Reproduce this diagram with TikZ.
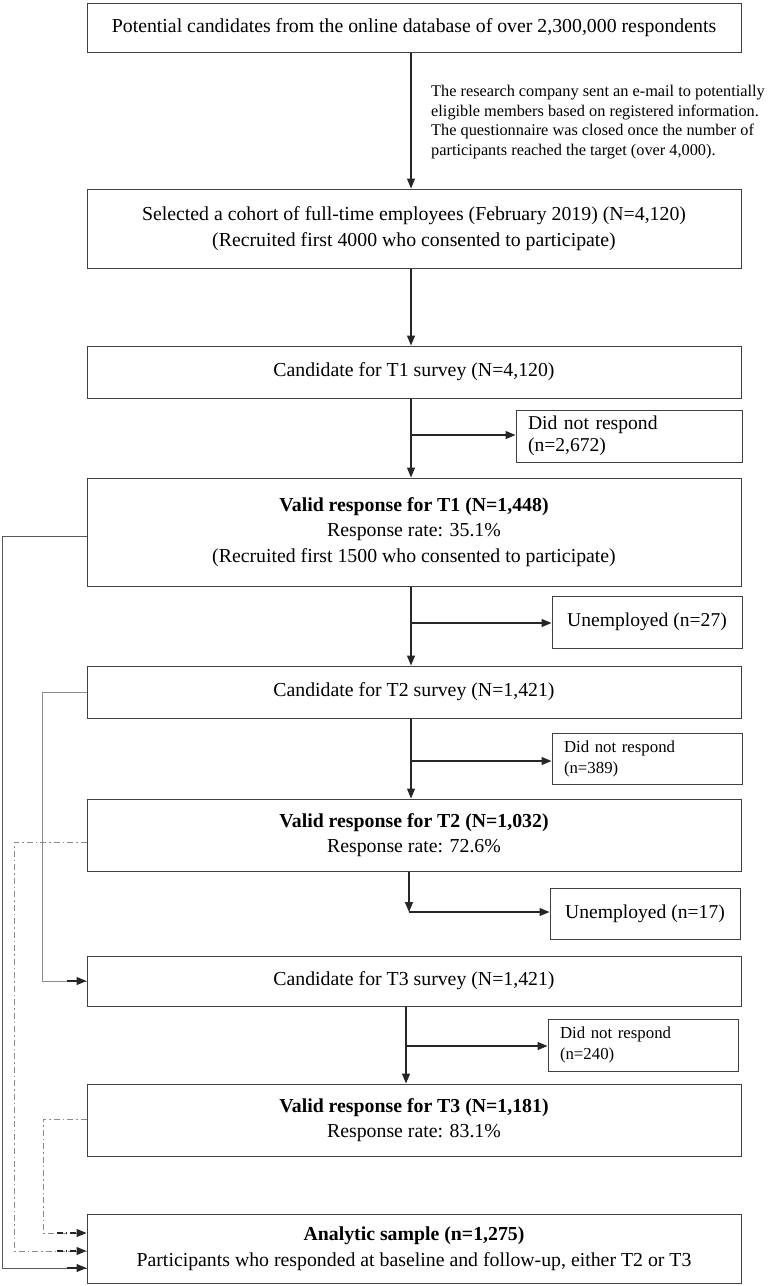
\documentclass[tikz,border=0pt]{standalone}
\usepackage{fontspec}
\setmainfont{Liberation Serif}
\usetikzlibrary{arrows.meta,calc}
\tikzset{
  mainbox/.style={draw=black!75, line width=1pt, minimum width=654pt, inner sep=0pt, align=center, font=\fontsize{19.8}{25.5}\selectfont},
  sidebox/.style={draw=black!75, line width=1pt, minimum width=190pt, minimum height=51pt, inner sep=0pt, font=\fontsize{19.6}{22}\selectfont},
  smalltext/.style={font=\fontsize{16.8}{21}\selectfont},
  arr/.style={draw=black!85, line width=1.2pt, -{Triangle[length=10pt,width=8pt]}},
  leftsolid/.style={draw=black!65, line width=1pt},
  leftgray/.style={draw=black!45, line width=1pt},
  dashdot/.style={draw=black!45, line width=1pt, dash pattern=on 6pt off 3pt on 1.5pt off 3pt},
  dasharr/.style={arr, dash pattern=on 6pt off 3pt on 1.5pt off 3pt}
}
\begin{document}
\begin{tikzpicture}[x=1pt,y=-1pt]
\useasboundingbox (0,0) rectangle (769,1286);
% main boxes
\node[mainbox, minimum height=49pt] (b1) at (414,27.5) {Potential candidates from the online database of over 2,300,000 respondents};
\node[mainbox, minimum height=79pt] (b2) at (414,228.5) {Selected a cohort of full-time employees (February 2019) (N=4,120)\\(Recruited first 4000 who consented to participate)};
\node[mainbox, minimum height=52pt] (b3) at (414,372) {Candidate for T1 survey (N=4,120)};
\node[mainbox, minimum height=108pt] (b4) at (414,532) {\textbf{Valid response for T1 (N=1,448)}\\Response rate: 35.1\%\\(Recruited first 1500 who consented to participate)};
\node[mainbox, minimum height=52pt] (b5) at (414,692) {Candidate for T2 survey (N=1,421)};
\node[mainbox, minimum height=72pt] (b6) at (414,835) {\textbf{Valid response for T2 (N=1,032)}\\Response rate: 72.6\%};
\node[mainbox, minimum height=50pt] (b7) at (414,981) {Candidate for T3 survey (N=1,421)};
\node[mainbox, minimum height=72pt] (b8) at (414,1120) {\textbf{Valid response for T3 (N=1,181)}\\Response rate: 83.1\%};
\node[mainbox, minimum height=69pt] (b9) at (414,1248.5) {\textbf{Analytic sample (n=1,275)}\\Participants who responded at baseline and follow-up, either T2 or T3};
% annotation
\node[anchor=north west, align=left, inner sep=0pt, font=\fontsize{16.3}{19.5}\selectfont] (note) at (431,85) {The research company sent an e-mail to potentially\\eligible members based on registered information.\\The questionnaire was closed once the number of\\participants reached the target (over 4,000).};
% side boxes
\node[sidebox, minimum width=226pt, minimum height=52pt, align=left, text width=202pt] (s1) at (629,436) {Did not respond\\(n=2,672)};
\node[sidebox, minimum height=52pt] (s2) at (647,622) {Unemployed (n=27)};
\node[sidebox, align=left, text width=166pt, smalltext] (s3) at (647,758.5) {Did not respond\\(n=389)};
\node[sidebox] (s4) at (645,913.5) {Unemployed (n=17)};
\node[sidebox, minimum height=52pt, align=left, text width=166pt, smalltext] (s5) at (643,1045) {Did not respond\\(n=240)};
% vertical flow
\coordinate (p1) at (411,435);
\coordinate (p2) at (411,623);
\coordinate (p3) at (411,761);
\coordinate (p4) at (409,912);
\coordinate (p5) at (406,1046);
\draw[arr] (b1.south -| 411,0) -- (b2.north -| 411,0);
\draw[arr] (b2.south -| 411,0) -- (b3.north -| 411,0);
\draw[arr] (b3.south -| p1) -- (b4.north -| p1);
\draw[arr] (p1) -- (s1.west |- p1);
\draw[arr] (b4.south -| p2) -- (b5.north -| p2);
\draw[arr] (p2) -- (s2.west |- p2);
\draw[arr] (b5.south -| p3) -- (b6.north -| p3);
\draw[arr] (p3) -- (s3.west |- p3);
\draw[arr] (b6.south -| p4) -- (p4);
\draw[arr] (p4) -- (s4.west |- p4);
\draw[arr] (b7.south -| p5) -- (b8.north -| p5);
\draw[arr] (p5) -- (s5.west |- p5);
% left connectors
\coordinate (t1) at ([yshift=-19.5pt]b9.west);
\coordinate (t2) at ([yshift=-2.5pt]b9.west);
\coordinate (t3) at ([yshift=15.5pt]b9.west);
\draw[leftsolid] ([yshift=-4pt]b4.west) -| (2,1268) -- (t1);
\draw[arr] ([xshift=-20pt]t1) -- (t1);
\draw[leftgray] (b5.west) -| (42,981) -- (b7.west);
\draw[arr] ([xshift=-20pt]b7.west) -- (b7.west);
\draw[dashdot] ([yshift=-7pt]b6.west) -| (14,1251) -- (t2);
\draw[dasharr] ([xshift=-30pt]t2) -- (t2);
\draw[dashdot] ([yshift=1pt]b8.west) -| (43,1233) -- (t3);
\draw[dasharr] ([xshift=-30pt]t3) -- (t3);
\end{tikzpicture}
\end{document}
